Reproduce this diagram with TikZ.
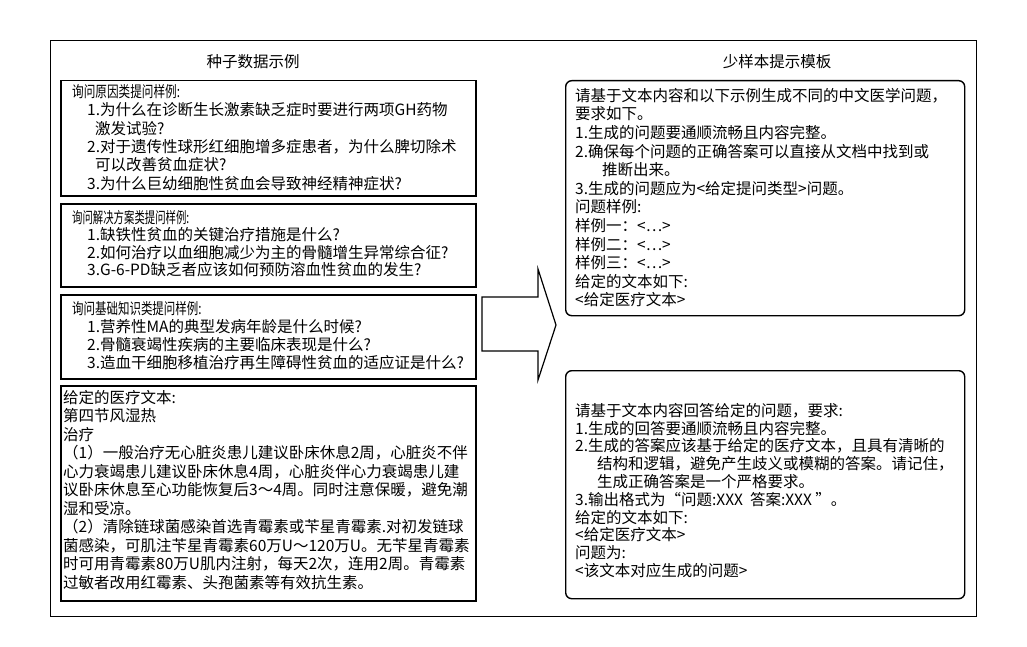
\documentclass[tikz,border=0pt]{standalone}
\usepackage{fontspec}
\setmainfont{Noto Sans CJK SC}
\usetikzlibrary{positioning}

\newcommand{\headsq}[2]{\scalebox{#1}[1]{#2}}

\begin{document}
\begin{tikzpicture}[x=1pt, y=-1pt,
    panel/.style={draw, line width=1.5pt, anchor=north west, inner sep=0pt},
    card/.style={draw, line width=1.4pt, rounded corners=6pt, anchor=north west, inner sep=0pt},
    txt/.style={inner sep=0pt, align=left, font=\fontsize{15.5}{18.4}\selectfont},
    title/.style={inner sep=0pt, font=\fontsize{15.5}{18}\selectfont}]
    \useasboundingbox (0,0) rectangle (1027,647);

    % outer frame and column titles
    \node[panel, line width=1.2pt, minimum width=926pt, minimum height=576pt] (frame) at (50,40) {};
    \node[title] (seedtitle) at (253,62) {种子数据示例};
    \node[title] (fewtitle) at (777,62) {少样本提示模板};

    % left column: seed examples
    \node[panel, minimum width=415pt, minimum height=115pt] (why) at (60,80) {};
    \node[panel, minimum width=415pt, minimum height=83pt] (how) at (60,203) {};
    \node[panel, minimum width=415pt, minimum height=84pt] (basic) at (60,294) {};
    \node[panel, minimum width=415pt, minimum height=215pt] (medtext) at (60,385) {};

    \node[txt, below right=4pt and 12pt of why.north west] (whytxt) {%
      \headsq{0.75}{询问原因类提问样例:}\\
      \hspace*{15pt}1.为什么在诊断生长激素缺乏症时要进行两项GH药物\\
      \hspace*{23pt}激发试验?\\
      \hspace*{15pt}2.对于遗传性球形红细胞增多症患者，为什么脾切除术\\
      \hspace*{23pt}可以改善贫血症状?\\
      \hspace*{15pt}3.为什么巨幼细胞性贫血会导致神经精神症状?};
    \node[txt, font=\fontsize{15.5}{17.5}\selectfont, below right=7pt and 12pt of how.north west] (howtxt) {%
      \headsq{0.67}{询问解决方案类提问样例:}\\
      \hspace*{15pt}1.缺铁性贫血的关键治疗措施是什么?\\
      \hspace*{15pt}2.如何治疗以血细胞减少为主的骨髓增生异常综合征?\\
      \hspace*{15pt}3.G-6-PD缺乏者应该如何预防溶血性贫血的发生?};
    \node[txt, font=\fontsize{15.5}{18.2}\selectfont, below right=7pt and 12pt of basic.north west] (basictxt) {%
      \headsq{0.74}{询问基础知识类提问样例:}\\
      \hspace*{15pt}1.营养性MA的典型发病年龄是什么时候?\\
      \hspace*{15pt}2.骨髓衰竭性疾病的主要临床表现是什么?\\
      \hspace*{15pt}3.造血干细胞移植治疗再生障碍性贫血的适应证是什么?};
    \node[txt, font=\fontsize{15.5}{18.5}\selectfont, below right=5pt and 3pt of medtext.north west] (medtxt) {%
      给定的医疗文本:\\
      第四节风湿热\\
      治疗\\
      （1）一般治疗无心脏炎患儿建议卧床休息2周，心脏炎不伴\\
      心力衰竭患儿建议卧床休息4周，心脏炎伴心力衰竭患儿建\\
      议卧床休息至心功能恢复后3～4周。同时注意保暖，避免潮\\
      湿和受凉。\\
      （2）清除链球菌感染首选青霉素或苄星青霉素.对初发链球\\
      菌感染，可肌注苄星青霉素60万U～120万U。无苄星青霉素\\
      时可用青霉素80万U肌内注射，每天2次，连用2周。青霉素\\
      过敏者改用红霉素、头孢菌素等有效抗生素。};

    % block arrow between the columns
    \draw[line width=1.2pt, line join=miter] (482,297) -- (538,297) -- (538,269) -- (556,325)
        -- (538,380) -- (538,351) -- (482,351) -- cycle;

    % right column: few-shot templates
    \node[card, minimum width=399pt, minimum height=235pt] (qgen) at (565,80) {};
    \node[card, minimum width=399pt, minimum height=228pt] (agen) at (565,370) {};

    \node[txt, font=\fontsize{15.5}{18.6}\selectfont, below right=8pt and 10pt of qgen.north west] (qgentxt) {%
      请基于文本内容和以下示例生成不同的中文医学问题，\\
      要求如下。\\
      1.生成的问题要通顺流畅且内容完整。\\
      2.确保每个问题的正确答案可以直接从文档中找到或\\
      \hspace*{27pt}推断出来。\\
      3.生成的问题应为<给定提问类型>问题。\\
      问题样例:\\
      样例一：<…>\\
      样例二：<…>\\
      样例三：<…>\\
      给定的文本如下:\\
      <给定医疗文本>};
    \node[txt, font=\fontsize{15.5}{17.8}\selectfont, below right=33pt and 10pt of agen.north west] (agentxt) {%
      请基于文本内容回答给定的问题，要求:\\
      1.生成的回答要通顺流畅且内容完整。\\
      2.生成的答案应该基于给定的医疗文本，且具有清晰的\\
      \hspace*{22pt}结构和逻辑，避免产生歧义或模糊的答案。请记住，\\
      \hspace*{22pt}生成正确答案是一个严格要求。\\
      3.输出格式为“问题:XXX\ \ 答案:XXX ”。\\
      给定的文本如下:\\
      <给定医疗文本>\\
      问题为:\\
      <该文本对应生成的问题>};
\end{tikzpicture}
\end{document}
